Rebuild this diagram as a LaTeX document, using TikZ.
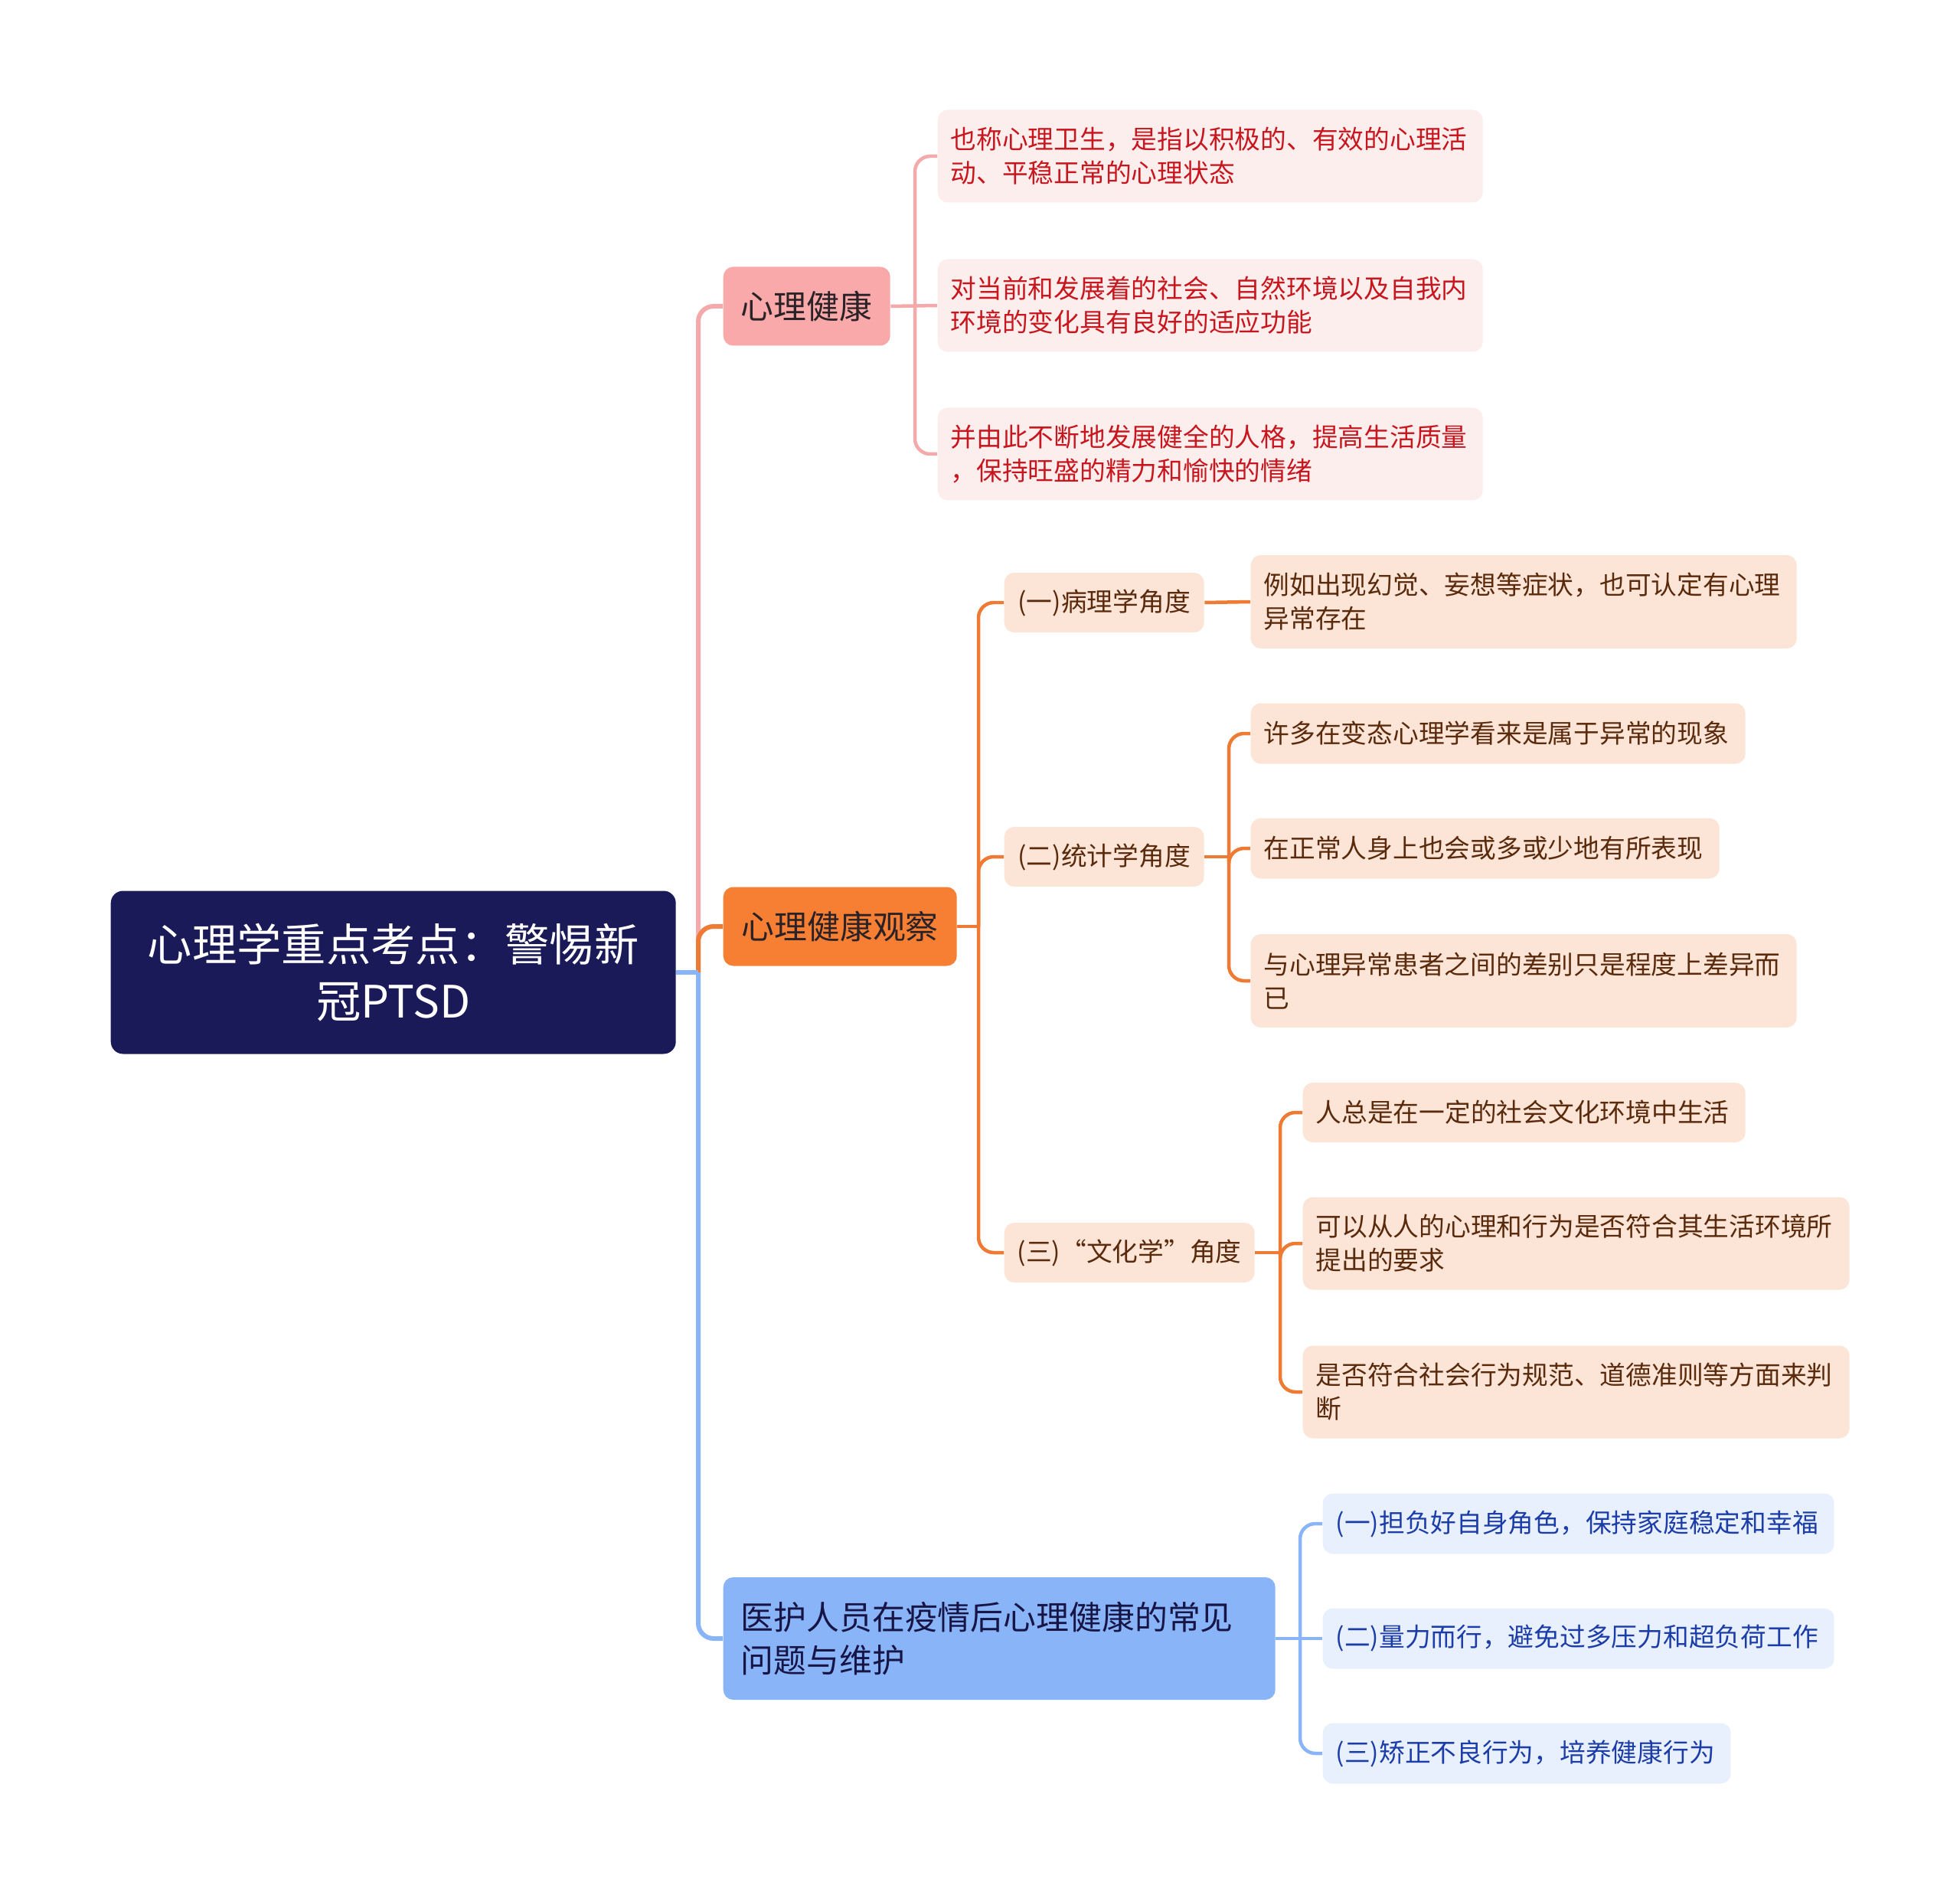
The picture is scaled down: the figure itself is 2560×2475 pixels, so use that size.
\documentclass[tikz,border=0pt]{standalone}
\usepackage{fontspec}
\setmainfont{Noto Sans CJK SC}
\usepackage{xcolor}
\usepackage{tikz}
\usetikzlibrary{positioning}

\definecolor{rootnavy}{HTML}{1B1A58}
\definecolor{pinkfill}{HTML}{F9A9A9}
\definecolor{pinkline}{HTML}{F4AAAA}
\definecolor{pinkleaf}{HTML}{FDEEEE}
\definecolor{pinktext}{HTML}{C8161E}
\definecolor{orangefill}{HTML}{F67F34}
\definecolor{orangeline}{HTML}{EE7A33}
\definecolor{peachfill}{HTML}{FCE4D6}
\definecolor{browntext}{HTML}{5A2A0C}
\definecolor{bluefill}{HTML}{8AB4F8}
\definecolor{blueline}{HTML}{8AB4F8}
\definecolor{blueleaf}{HTML}{E8F0FD}
\definecolor{bluetext}{HTML}{1C3DA8}
\definecolor{darkink}{HTML}{2A2226}

\begin{document}
\begin{tikzpicture}[
  x=0.1mm, y=-0.1mm,
  box/.style={rectangle, rounded corners=1.3mm, anchor=west, inner ysep=0pt},
  rootbox/.style={box, fill=rootnavy, text=white, rounded corners=1.6mm, inner xsep=3.9mm, text width=66mm, align=center, minimum height=21.3mm,
    font=\fontsize{16.6pt}{21.3pt}\selectfont},
  topic/.style={box, inner xsep=2.3mm, minimum height=10.3mm, text=darkink, font=\fontsize{12.2pt}{15.8pt}\selectfont},
  sub/.style={box, fill=peachfill, text=browntext, inner xsep=1.2mm, minimum height=7.8mm, font=\fontsize{9.6pt}{12.5pt}\selectfont},
  leaf/.style={box, inner xsep=1.7mm, text width=#1, align=left, font=\fontsize{9.6pt}{12.5pt}\selectfont},
  pinkleafbox/.style={leaf=67.8mm, fill=pinkleaf, text=pinktext, minimum height=12.1mm},
  peachleaf/.style={leaf=#1, fill=peachfill, text=browntext},
  blueleafbox/.style={leaf=#1, fill=blueleaf, text=bluetext, minimum height=7.9mm},
  mainline/.style={line width=0.6mm, rounded corners=2mm},
  subline/.style={line width=0.45mm, rounded corners=2mm}
]
  \useasboundingbox (0,0) rectangle (2560,2475);

  \node[rootbox] (root) at (144,1270) {心理学重点考点：警惕新\\冠PTSD};

  \node[topic, fill=pinkfill, minimum width=21.8mm] (health) at (944,400) {心理健康};
  \node[topic, fill=orangefill, minimum width=30.5mm] (observe) at (944,1210) {心理健康观察};
  \node[topic, fill=bluefill, text width=67.5mm, align=left, minimum height=16mm, text=rootnavy!80!black] (nurse) at (944,2140) {医护人员在疫情后心理健康的常见\\问题与维护};

  \node[pinkleafbox] (h1) at (1224,204) {也称心理卫生，是指以积极的、有效的心理活\\动、平稳正常的心理状态};
  \node[pinkleafbox] (h2) at (1224,399) {对当前和发展着的社会、自然环境以及自我内\\环境的变化具有良好的适应功能};
  \node[pinkleafbox] (h3) at (1224,593) {并由此不断地发展健全的人格，提高生活质量\\，保持旺盛的精力和愉快的情绪};

  \node[sub, minimum width=26.1mm] (o1) at (1311,787) {(一)病理学角度};
  \node[sub, minimum width=26.1mm] (o2) at (1311,1119) {(二)统计学角度};
  \node[sub, minimum width=32.7mm] (o3) at (1311,1636) {(三)“文化学”角度};

  \node[peachleaf=67.9mm, minimum height=12.2mm] (p1) at (1633,786) {例如出现幻觉、妄想等症状，也可认定有心理\\异常存在};
  \node[peachleaf=61.2mm, minimum height=7.9mm] (s1) at (1633,958) {许多在变态心理学看来是属于异常的现象};
  \node[peachleaf=57.8mm, minimum height=7.9mm] (s2) at (1633,1108) {在正常人身上也会或多或少地有所表现};
  \node[peachleaf=67.9mm, minimum height=12.2mm] (s3) at (1633,1281) {与心理异常患者之间的差别只是程度上差异而\\已};
  \node[peachleaf=54.4mm, minimum height=7.8mm] (c1) at (1701,1453) {人总是在一定的社会文化环境中生活};
  \node[peachleaf=68mm, minimum height=12.1mm] (c2) at (1701,1624) {可以从人的心理和行为是否符合其生活环境所\\提出的要求};
  \node[peachleaf=68mm, minimum height=12.1mm] (c3) at (1701,1818) {是否符合社会行为规范、道德准则等方面来判\\断};

  \node[blueleafbox=63.4mm] (b1) at (1727,1990) {(一)担负好自身角色，保持家庭稳定和幸福};
  \node[blueleafbox=63.4mm] (b2) at (1727,2140) {(二)量力而行，避免过多压力和超负荷工作};
  \node[blueleafbox=49.9mm] (b3) at (1727,2290) {(三)矫正不良行为，培养健康行为};

  \coordinate (rootfork) at (912,1270);
  \coordinate (healthfork) at (1195,400);
  \coordinate (observefork) at (1278,1210);
  \coordinate (statfork) at (1605,1119);
  \coordinate (culturefork) at (1672,1636);
  \coordinate (nursefork) at (1698,2140);

  \draw[mainline, pinkline] (rootfork) |- (health.west);
  \draw[mainline, orangeline] (rootfork) |- (observe.west);
  \draw[mainline, blueline] (rootfork) |- (nurse.west);
  \draw[mainline, blueline] (root.east) -- (rootfork);

  \draw[subline, pinkline] (health.east) -- (h2.west);
  \draw[subline, pinkline] (healthfork) |- (h1.west);
  \draw[subline, pinkline] (healthfork) |- (h3.west);

  \draw[subline, orangeline] (observe.east) -- (observefork);
  \draw[subline, orangeline] (observefork) |- (o1.west);
  \draw[subline, orangeline] (observefork) |- (o2.west);
  \draw[subline, orangeline] (observefork) |- (o3.west);
  \draw[subline, orangeline] (o1.east) -- (p1.west);

  \draw[subline, orangeline] (o2.east) -- (statfork);
  \draw[subline, orangeline] (statfork) |- (s1.west);
  \draw[subline, orangeline] (statfork) |- (s2.west);
  \draw[subline, orangeline] (statfork) |- (s3.west);

  \draw[subline, orangeline] (o3.east) -- (culturefork);
  \draw[subline, orangeline] (culturefork) |- (c1.west);
  \draw[subline, orangeline] (culturefork) |- (c2.west);
  \draw[subline, orangeline] (culturefork) |- (c3.west);

  \draw[subline, blueline] (nurse.east) -- (b2.west);
  \draw[subline, blueline] (nursefork) |- (b1.west);
  \draw[subline, blueline] (nursefork) |- (b3.west);
\end{tikzpicture}
\end{document}
